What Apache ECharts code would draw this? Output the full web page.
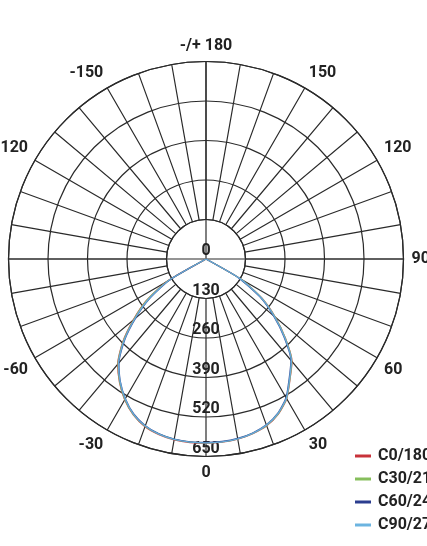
<!DOCTYPE html>
<html>
<head>
<meta charset="utf-8">
<script src="https://cdn.jsdelivr.net/npm/echarts@6/dist/echarts.min.js"></script>
<style>
html,body{margin:0;padding:0;background:#fff;}
#chart{width:427px;height:546px;}
</style>
</head>
<body>
<div id="chart"></div>
<script>
// gamma angles (degrees), 0 = straight down
var angles = [-90,-85,-80,-75,-70,-65,-60,-55,-50,-45,-40,-35,-30,-25,-20,-15,-10,-5,0,5,10,15,20,25,30,35,40,45,50,55,60,65,70,75,80,85,90];
var seriesNames = ['C0/180','C30/210','C60/240','C90/270'];
var c0   = [0,0,0,0,0,0,150,240,312,388,452,496,535,566,587,598,604,606,606,605,602,595,584,563,531,482,440,370,297,224,132,0,0,0,0,0,0];
var c30  = [0,0,0,0,0,0,148,238,310,386,450,495,534,565,586,597,603,605,605,604,601,594,583,562,530,481,439,369,296,223,131,0,0,0,0,0,0];
var c60  = [0,0,0,0,0,0,138,226,302,380,446,492,531,563,584,596,602,604,604,603,600,593,581,560,527,478,435,364,290,216,124,0,0,0,0,0,0];
var c90  = [0,0,0,0,0,0,143,232,306,383,448,493,532,564,585,597,603,605,605,604,601,594,582,561,529,480,437,367,293,220,128,0,0,0,0,0,0];
var radiusTicks = [0,130,260,390,520,650];
var seriesColors = ['#c8323a','#86be5c','#2b3d8f','#6cb4e0'];

function toPolar(vals){
  var out = [];
  for (var i = angles.length - 1; i >= 0; i--) {
    var a = angles[i] < 0 ? angles[i] + 360 : angles[i];
    out.push([vals[i], a]);
  }
  return out;
}
var allVals = [c0, c30, c60, c90];

var txt = {fontFamily:'Roboto', fontSize:16, fontWeight:'bold', color:'#222'};
var gridColor = '#2a2a2a';

var chart = echarts.init(document.getElementById('chart'), null, {renderer:'canvas'});
var series = seriesNames.map(function(n, k){
  return {
    name: n, type:'line', coordinateSystem:'polar', polarIndex:0,
    data: toPolar(allVals[k]), symbol:'none', smooth:0.2, clip:false,
    color: seriesColors[k],
    lineStyle:{width:1.4, color: seriesColors[k], opacity:0.9},
    z: 5 + k, animation:false
  };
});

chart.setOption({
  backgroundColor:'#fff',
  animation:false,
  polar:[
    {center:[206,259], radius:[0,197.5]},
    {center:[206,259], radius:[39.5,197.5]}
  ],
  angleAxis:[
    {polarIndex:0, type:'value', min:0, max:360, interval:90, startAngle:270, clockwise:false,
     axisLine:{show:false}, axisTick:{show:false}, axisLabel:{show:false},
     splitLine:{show:true, lineStyle:{color:['transparent',gridColor,gridColor,gridColor], width:1.2}}},
    {polarIndex:1, type:'value', min:0, max:360, interval:10, startAngle:270, clockwise:false,
     axisLine:{show:true, lineStyle:{color:gridColor, width:1.2}}, axisTick:{show:false},
     axisLabel:{show:true, margin:8, fontFamily:txt.fontFamily, fontSize:txt.fontSize, fontWeight:txt.fontWeight, color:txt.color,
       formatter:function(v){
         if (v % 30 !== 0 || v === 360) return '';
         if (v === 180) return '-/+ 180';
         return v > 180 ? String(v - 360) : String(v);
       }},
     splitLine:{show:true, lineStyle:{color:gridColor, width:1.2}}}
  ],
  radiusAxis:[
    {polarIndex:0, type:'value', min:radiusTicks[0], max:radiusTicks[radiusTicks.length-1], interval:radiusTicks[1]-radiusTicks[0],
     axisLine:{show:false}, axisTick:{show:false},
     axisLabel:{show:true, margin:0, align:'center', verticalAlign:'bottom', fontFamily:txt.fontFamily, fontSize:txt.fontSize, fontWeight:txt.fontWeight, color:txt.color},
     splitLine:{show:true, lineStyle:{color:gridColor, width:1.2}}},
    {polarIndex:1, type:'value', min:130, max:650, show:false, axisLine:{show:false}, axisLabel:{show:false}, splitLine:{show:false}}
  ],
  legend:{
    data: seriesNames, orient:'vertical', left:350, top:443, itemWidth:16, itemHeight:3, itemGap:7,
    icon:'rect', textStyle:{fontFamily:txt.fontFamily, fontSize:16, fontWeight:'bold', color:'#222', padding:[0,0,0,2]}
  },
  series: series
});
</script>
</body>
</html>
